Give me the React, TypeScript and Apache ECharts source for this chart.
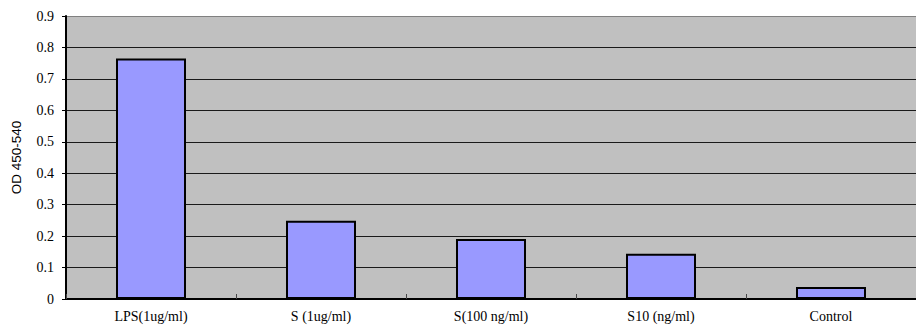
import React, { useEffect, useRef } from "react";
import * as echarts from "echarts";

const categories = ["LPS(1ug/ml)", "S (1ug/ml)", "S(100 ng/ml)", "S10 (ng/ml)", "Control"];
const values = [0.765, 0.249, 0.191, 0.144, 0.038];
const yTitle = "OD 450-540";

export default function App() {
  const ref = useRef<HTMLDivElement>(null);
  useEffect(() => {
    const chart = echarts.init(ref.current!, null, { renderer: "svg" });
    chart.setOption({
      animation: false,
      grid: {
        left: 66,
        right: -10,
        top: 16,
        bottom: 30,
        show: true,
        backgroundColor: "#c0c0c0",
        borderWidth: 0,
      },
      xAxis: {
        type: "category",
        data: categories,
        axisLine: { lineStyle: { color: "#000", width: 2 } },
        axisTick: { show: true, inside: true, length: 5, lineStyle: { color: "#444" } },
        axisLabel: {
          color: "#000",
          fontFamily: "Liberation Serif",
          fontSize: 14,
          margin: 10,
        },
      },
      yAxis: {
        type: "value",
        min: 0,
        max: 0.9,
        interval: 0.1,
        name: yTitle,
        nameLocation: "middle",
        nameGap: 43,
        nameTextStyle: { fontFamily: "Liberation Sans", fontSize: 13.5, color: "#000" },
        axisLine: { show: true, lineStyle: { color: "#000", width: 2 } },
        axisTick: { show: true, length: 4, lineStyle: { color: "#000" } },
        axisLabel: {
          color: "#000",
          fontFamily: "Liberation Serif",
          fontSize: 14,
          margin: 12,
          formatter: (v: number) => (v === 0 ? "0" : v.toFixed(1)),
        },
        splitLine: {
          show: true,
          lineStyle: {
            color: ["#000", "#1a1a1a", "#1a1a1a", "#1a1a1a", "#1a1a1a", "#1a1a1a", "#1a1a1a", "#1a1a1a", "#1a1a1a", "#808080"],
            width: 1,
          },
        },
      },
      series: [
        {
          type: "bar",
          data: values,
          barWidth: 70,
          itemStyle: { color: "#9999ff", borderColor: "#000", borderWidth: 2 },
        },
      ],
    });
    return () => chart.dispose();
  }, []);
  return (
    <div
      ref={ref}
      style={{ position: "fixed", left: 0, top: 0, width: 916, height: 329, background: "#fff" }}
    />
  );
}
